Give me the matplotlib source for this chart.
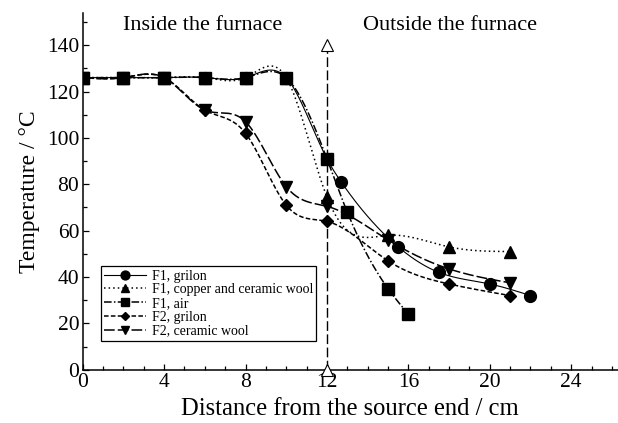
import numpy as np
import matplotlib
matplotlib.use("Agg")
import matplotlib.pyplot as plt
from matplotlib.lines import Line2D

plt.rcParams['font.family'] = ['Liberation Serif', 'DejaVu Serif']
plt.rcParams['mathtext.fontset'] = 'stix'

# data (distance in cm, temperature in degC)
x_f1_grilon = [0, 2, 4, 6, 8, 10, 12, 12.7, 15.5, 17.5, 20, 22]
y_f1_grilon = [126, 126, 126, 126, 126, 126, 91, 81, 53, 42, 37, 32]

x_f1_copper = [0, 2, 4, 6, 8, 10, 12, 15, 18, 21]
y_f1_copper = [126, 126, 126, 126, 126, 126, 74.5, 58, 53, 51]

x_f1_air = [0, 2, 4, 6, 8, 10, 12, 13, 15, 16]
y_f1_air = [126, 126, 126, 126, 126, 126, 91, 68, 35, 24]

x_f2_grilon = [0, 2, 4, 6, 8, 10, 12, 15, 18, 21]
y_f2_grilon = [126, 126, 126, 112, 102, 71, 64, 47, 37, 32]

x_f2_ceramic = [0, 2, 4, 6, 8, 10, 12, 15, 18, 21]
y_f2_ceramic = [126, 126, 126, 112, 107, 79, 70.5, 56, 43.5, 37.5]

furnace_end = 12


def spline(x, y, num=400):
    # natural cubic spline, only used to draw the smooth curve between the points
    x = np.asarray(x, float)
    y = np.asarray(y, float)
    n = len(x)
    h = np.diff(x)
    A = np.zeros((n, n))
    r = np.zeros(n)
    A[0, 0] = A[-1, -1] = 1
    for i in range(1, n - 1):
        A[i, i - 1] = h[i - 1]
        A[i, i] = 2 * (h[i - 1] + h[i])
        A[i, i + 1] = h[i]
        r[i] = 6 * ((y[i + 1] - y[i]) / h[i] - (y[i] - y[i - 1]) / h[i - 1])
    M = np.linalg.solve(A, r)
    xs = np.linspace(x[0], x[-1], num)
    idx = np.clip(np.searchsorted(x, xs) - 1, 0, n - 2)
    t0, t1 = x[idx], x[idx + 1]
    hh = t1 - t0
    a = (t1 - xs) / hh
    b = (xs - t0) / hh
    ys = a * y[idx] + b * y[idx + 1] + ((a**3 - a) * M[idx] + (b**3 - b) * M[idx + 1]) * hh**2 / 6
    return xs, ys


series = [
    ("F1, grilon", x_f1_grilon, y_f1_grilon, dict(ls='-', lw=0.8), dict(marker='o', ms=8.5), 3),
    ("F1, copper and ceramic wool", x_f1_copper, y_f1_copper, dict(ls=(0, (1, 2)), lw=1.1), dict(marker='^', ms=8.5), 3),
    ("F1, air", x_f1_air, y_f1_air, dict(ls=(0, (5, 1.5, 1, 1.5)), lw=1.1), dict(marker='s', ms=8), 5),
    ("F2, grilon", x_f2_grilon, y_f2_grilon, dict(ls=(0, (3, 1.5)), lw=1.1), dict(marker='D', ms=6), 3),
    ("F2, ceramic wool", x_f2_ceramic, y_f2_ceramic, dict(ls=(0, (7, 2)), lw=1.1), dict(marker='v', ms=8.5), 3),
]

fig = plt.figure(figsize=(6.18, 4.23), dpi=100)
ax = fig.add_axes([0.1338, 0.1258, 0.8662, 0.8442])

handles = []
for label, xv, yv, lstyle, mstyle, z in series:
    xs, ys = spline(xv, yv)
    ax.plot(xs, ys, color='black', zorder=2, **lstyle)
    ax.plot(xv, yv, color='black', ls='none', zorder=z, **mstyle)
    legend_marker = dict(mstyle, ms=mstyle['ms'] * 0.75)
    handles.append(Line2D([], [], color='black', **lstyle, **legend_marker))

# furnace end marker
ax.plot([furnace_end, furnace_end], [0, 140], color='black', lw=1.0,
        ls=(0, (7, 2.5)), marker='^', ms=8, mfc='white', mec='black',
        mew=0.8, zorder=4, clip_on=False)

ax.text(5.9, 148.3, "Inside the furnace", ha='center', va='center', fontsize=16)
ax.text(18.05, 148.3, "Outside the furnace", ha='center', va='center', fontsize=16)

ax.set_xlim(0, 26.3)
ax.set_ylim(0, 154)
ax.set_xticks(np.arange(0, 25, 4))
ax.set_xticks(np.arange(0, 27, 1), minor=True)
ax.set_yticks(np.arange(0, 141, 20))
ax.set_yticks(np.arange(0, 151, 10), minor=True)
ax.tick_params(which='both', direction='in', width=0.9, labelsize=15.5, pad=2.5)
ax.tick_params(which='major', length=4.3)
ax.tick_params(which='minor', length=2.9)
ax.spines['top'].set_visible(False)
ax.spines['right'].set_visible(False)
ax.spines['left'].set_linewidth(1.1)
ax.spines['bottom'].set_linewidth(1.1)

ax.set_xlabel("Distance from the source end / cm", fontsize=17.7, labelpad=4)
ax.set_ylabel("Temperature / °C", fontsize=17, labelpad=5)

leg = ax.legend(handles=handles, labels=[s[0] for s in series], loc='lower left',
                bbox_to_anchor=(0.034, 0.081), borderaxespad=0, fontsize=10,
                handlelength=3.0, handletextpad=0.4, labelspacing=0.05,
                borderpad=0.25, fancybox=False, framealpha=1, edgecolor='black')
leg.get_frame().set_linewidth(0.9)

fig.savefig("out.png", dpi=100)
